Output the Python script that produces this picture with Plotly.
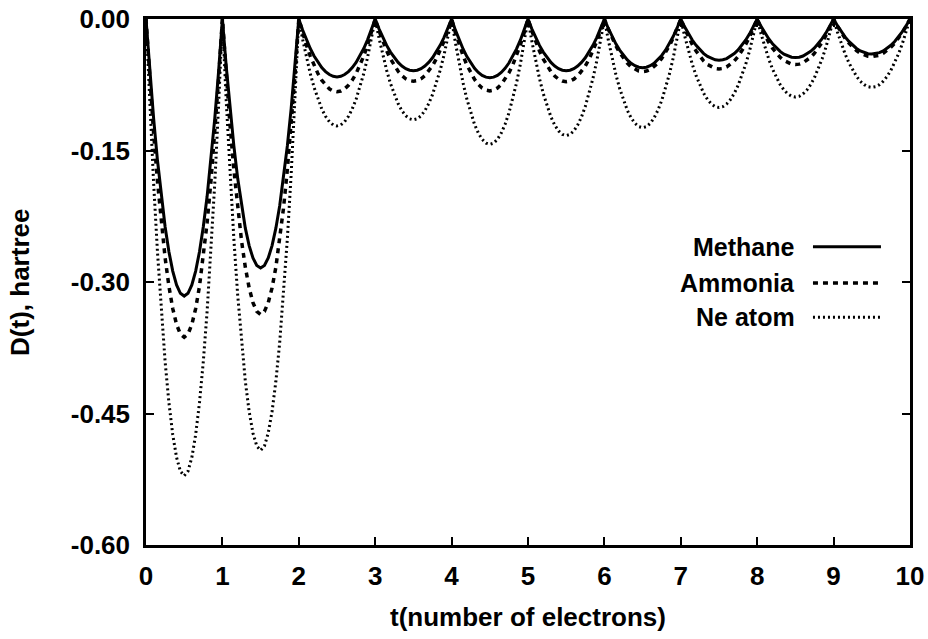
import plotly.graph_objects as go

# ---- data ----
segment_starts = [0, 1, 2, 3, 4, 5, 6, 7, 8, 9]
# depth at the bottom of each dip (hartree, positive numbers = below zero)
methane_min = [0.316, 0.284, 0.066, 0.059, 0.067, 0.059, 0.0555, 0.047, 0.044, 0.040]
ammonia_min = [0.363, 0.337, 0.083, 0.071, 0.082, 0.0715, 0.060, 0.057, 0.052, 0.043]
ne_min = [0.521, 0.492, 0.122, 0.115, 0.143, 0.133, 0.124, 0.101, 0.089, 0.078]
# shape of one dip (fraction of segment -> fraction of the dip depth)
dip_frac = [0.0, 0.05, 0.1, 0.15, 0.2, 0.25, 0.3, 0.35, 0.4, 0.45, 0.5,
            0.55, 0.6, 0.65, 0.7, 0.75, 0.8, 0.85, 0.9, 0.95, 1.0]
dip_shape = [0.0, 0.19, 0.36, 0.51, 0.64, 0.75, 0.84, 0.91, 0.96, 0.99, 1.0,
             0.99, 0.96, 0.91, 0.84, 0.75, 0.64, 0.51, 0.36, 0.19, 0.0]

y_tickvals = [0.0, -0.15, -0.30, -0.45, -0.60]
y_ticktext = ["0.00", "-0.15", "-0.30", "-0.45", "-0.60"]
x_tickvals = [0, 1, 2, 3, 4, 5, 6, 7, 8, 9, 10]
series_names = ["Methane", "Ammonia", "Ne atom"]


def build(mins):
    xs, ys = [], []
    for k, (s, d) in enumerate(zip(segment_starts, mins)):
        for j, (f, p) in enumerate(zip(dip_frac, dip_shape)):
            if k > 0 and j == 0:
                continue
            xs.append(s + f)
            ys.append(-d * p)
    return xs, ys


styles = [
    dict(color="black", width=3, dash="solid"),
    dict(color="black", width=3.5, dash="5px,5px"),
    dict(color="black", width=3, dash="2px,3px"),
]

FONT = "Liberation Sans, Arial, sans-serif"
fig = go.Figure()
for name, mins, st in zip(series_names, [methane_min, ammonia_min, ne_min], styles):
    xs, ys = build(mins)
    fig.add_trace(go.Scatter(x=xs, y=ys, mode="lines", name=name, line=st,
                             showlegend=False))

# manual legend: text on the left, line sample on the right
legend_y = [0.567, 0.498, 0.433]
for name, st, ly in zip(series_names, styles, legend_y):
    fig.add_annotation(xref="paper", yref="paper", x=0.852, y=ly,
                       text="<b>%s</b>" % name,
                       showarrow=False, xanchor="right", yanchor="middle",
                       font=dict(family=FONT, size=25, color="black"))
    fig.add_shape(type="line", xref="paper", yref="paper", x0=0.873, x1=0.962,
                  y0=ly, y1=ly, line=st)

# y-axis title placed as rotated text
fig.add_annotation(xref="paper", yref="paper", x=-0.165, y=0.5,
                   text="<b>D(t), hartree</b>", textangle=-90, showarrow=False,
                   xanchor="center", yanchor="middle",
                   font=dict(family=FONT, size=26, color="black"))

axis_common = dict(showgrid=False, zeroline=False, showline=True, linecolor="black",
                   linewidth=2.5, mirror="ticks", ticks="inside", ticklen=8,
                   tickwidth=2, tickcolor="black",
                   tickfont=dict(family=FONT, size=26, color="black", weight="bold"))

fig.update_xaxes(range=[0, 10], tickvals=x_tickvals, ticklabelstandoff=6,
                 title=dict(text="t(number of electrons)", standoff=18,
                            font=dict(family=FONT, size=26, color="black",
                                      weight="bold")),
                 **axis_common)
fig.update_yaxes(range=[-0.6, 0.0], tickvals=y_tickvals, ticktext=y_ticktext,
                 ticklabelstandoff=8, **axis_common)

fig.update_layout(width=928, height=639, paper_bgcolor="white", plot_bgcolor="white",
                  margin=dict(l=146, r=18, t=19, b=94, autoexpand=False),
                  font=dict(family=FONT, color="black"))

fig.write_html("out.html", config={"displayModeBar": False},
               post_script="document.body.style.margin='0';document.body.style.padding='0';")
